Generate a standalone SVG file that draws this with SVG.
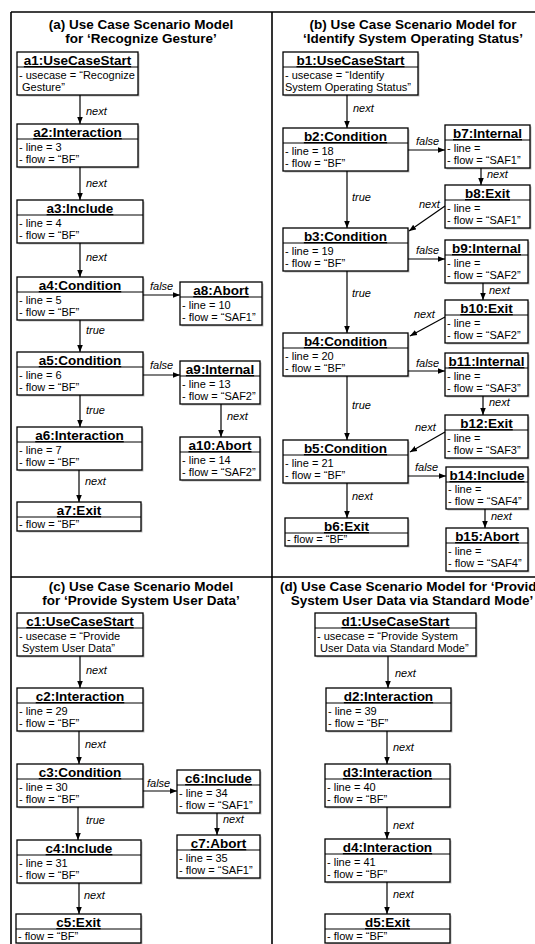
<svg xmlns="http://www.w3.org/2000/svg" width="535" height="944" viewBox="0 0 535 944">
<defs>
<marker id="ah" viewBox="0 0 10 10" refX="10" refY="5" markerWidth="7" markerHeight="7" orient="auto" markerUnits="userSpaceOnUse"><path d="M0,1 L10,5 L0,9 z" fill="#000"/></marker>
<style>
.frame{stroke:#000;stroke-width:1.6;fill:none}
.t{font:bold 13.5px "Liberation Sans",Arial,sans-serif;text-anchor:middle;fill:#000}
.h{font:bold 13.5px "Liberation Sans",Arial,sans-serif;text-anchor:middle;text-decoration:underline;fill:#000}
.b{font:11px "Liberation Sans",Arial,sans-serif;fill:#000}
.l{font:italic 11px "Liberation Sans",Arial,sans-serif;fill:#000}
.node rect.bx{fill:#fff;stroke:#000;stroke-width:1.3}
.node rect.sh{fill:#bdbdbd;stroke:none}
.node line{stroke:#000;stroke-width:1}
.edges line{stroke:#000;stroke-width:1.2;marker-end:url(#ah)}
</style>
</defs>
<rect width="535" height="944" fill="#fff"/>
<g id="frames" class="frame">
<line x1="11" y1="12" x2="535" y2="12"/>
<line x1="11" y1="12" x2="11" y2="944"/>
<line x1="272" y1="12" x2="272" y2="944"/>
<line x1="11" y1="577" x2="535" y2="577"/>
</g>
<g id="titles">
<text class="t" x="141" y="29">(a) Use Case Scenario Model</text>
<text class="t" x="141" y="43">for ‘Recognize Gesture’</text>
<text class="t" x="413" y="29">(b) Use Case Scenario Model for</text>
<text class="t" x="413" y="43">‘Identify System Operating Status’</text>
<text class="t" x="141" y="591">(c) Use Case Scenario Model</text>
<text class="t" x="141" y="605">for ‘Provide System User Data’</text>
<text class="t" x="412" y="591">(d) Use Case Scenario Model for ‘Provide</text>
<text class="t" x="412" y="605">System User Data via Standard Mode’</text>
</g>

<!-- Panel a -->
<g id="a1" class="node"><rect class="sh" x="18.5" y="53.5" width="121" height="43"/><rect class="bx" x="17" y="52" width="121" height="43"/><line x1="17" y1="67" x2="138" y2="67"/><text class="h" x="77.5" y="65">a1:UseCaseStart</text><text class="b" x="19" y="78.5">- usecase = “Recognize</text><text class="b" x="22" y="90.5">Gesture”</text></g>
<g id="a2" class="node"><rect class="sh" x="18.5" y="125.5" width="121" height="43"/><rect class="bx" x="17" y="124" width="121" height="43"/><line x1="17" y1="139" x2="138" y2="139"/><text class="h" x="77.5" y="137">a2:Interaction</text><text class="b" x="19" y="150.5">- line = 3</text><text class="b" x="19" y="162.5">- flow = “BF”</text></g>
<g id="a3" class="node"><rect class="sh" x="18.5" y="201.5" width="126" height="43"/><rect class="bx" x="17" y="200" width="126" height="43"/><line x1="17" y1="215" x2="143" y2="215"/><text class="h" x="80" y="213">a3:Include</text><text class="b" x="19" y="226.5">- line = 4</text><text class="b" x="19" y="238.5">- flow = “BF”</text></g>
<g id="a4" class="node"><rect class="sh" x="18.5" y="278.5" width="126" height="43"/><rect class="bx" x="17" y="277" width="126" height="43"/><line x1="17" y1="292" x2="143" y2="292"/><text class="h" x="80" y="290">a4:Condition</text><text class="b" x="19" y="303.5">- line = 5</text><text class="b" x="19" y="315.5">- flow = “BF”</text></g>
<g id="a5" class="node"><rect class="sh" x="18.5" y="353.5" width="126" height="43"/><rect class="bx" x="17" y="352" width="126" height="43"/><line x1="17" y1="367" x2="143" y2="367"/><text class="h" x="80" y="365">a5:Condition</text><text class="b" x="19" y="378.5">- line = 6</text><text class="b" x="19" y="390.5">- flow = “BF”</text></g>
<g id="a6" class="node"><rect class="sh" x="18.5" y="428.5" width="125" height="43"/><rect class="bx" x="17" y="427" width="125" height="43"/><line x1="17" y1="442" x2="142" y2="442"/><text class="h" x="79.5" y="440">a6:Interaction</text><text class="b" x="19" y="453.5">- line = 7</text><text class="b" x="19" y="465.5">- flow = “BF”</text></g>
<g id="a7" class="node"><rect class="sh" x="18.5" y="503.5" width="124" height="29"/><rect class="bx" x="17" y="502" width="124" height="29"/><line x1="17" y1="517" x2="141" y2="517"/><text class="h" x="79" y="515">a7:Exit</text><text class="b" x="19" y="527.5">- flow = “BF”</text></g>
<g id="a8" class="node"><rect class="sh" x="181.5" y="283.5" width="82" height="43"/><rect class="bx" x="180" y="282" width="82" height="43"/><line x1="180" y1="297" x2="262" y2="297"/><text class="h" x="221" y="295">a8:Abort</text><text class="b" x="182" y="308.5">- line = 10</text><text class="b" x="182" y="320.5">- flow = “SAF1”</text></g>
<g id="a9" class="node"><rect class="sh" x="181.5" y="362.5" width="80" height="43"/><rect class="bx" x="180" y="361" width="80" height="43"/><line x1="180" y1="376" x2="260" y2="376"/><text class="h" x="220" y="374">a9:Internal</text><text class="b" x="182" y="387.5">- line = 13</text><text class="b" x="182" y="399.5">- flow = “SAF2”</text></g>
<g id="a10" class="node"><rect class="sh" x="181.5" y="438.5" width="80" height="43"/><rect class="bx" x="180" y="437" width="80" height="43"/><line x1="180" y1="452" x2="260" y2="452"/><text class="h" x="220" y="450">a10:Abort</text><text class="b" x="182" y="463.5">- line = 14</text><text class="b" x="182" y="475.5">- flow = “SAF2”</text></g>

<!-- Panel b -->
<g id="b1" class="node"><rect class="sh" x="284.5" y="53.5" width="135" height="43"/><rect class="bx" x="283" y="52" width="135" height="43"/><line x1="283" y1="67" x2="418" y2="67"/><text class="h" x="350.5" y="65">b1:UseCaseStart</text><text class="b" x="285" y="78.5">- usecase = “Identify</text><text class="b" x="285" y="90.5">System Operating Status”</text></g>
<g id="b2" class="node"><rect class="sh" x="284.5" y="129.5" width="125" height="43"/><rect class="bx" x="283" y="128" width="125" height="43"/><line x1="283" y1="143" x2="408" y2="143"/><text class="h" x="345.5" y="141">b2:Condition</text><text class="b" x="285" y="154.5">- line = 18</text><text class="b" x="285" y="166.5">- flow = “BF”</text></g>
<g id="b7" class="node"><rect class="sh" x="446.5" y="126.5" width="85" height="43"/><rect class="bx" x="445" y="125" width="85" height="43"/><line x1="445" y1="140" x2="530" y2="140"/><text class="h" x="487.5" y="138">b7:Internal</text><text class="b" x="447" y="151.5">- line =</text><text class="b" x="447" y="163.5">- flow = “SAF1”</text></g>
<g id="b8" class="node"><rect class="sh" x="446.5" y="186.5" width="85" height="43"/><rect class="bx" x="445" y="185" width="85" height="43"/><line x1="445" y1="200" x2="530" y2="200"/><text class="h" x="487.5" y="198">b8:Exit</text><text class="b" x="447" y="211.5">- line =</text><text class="b" x="447" y="223.5">- flow = “SAF1”</text></g>
<g id="b3" class="node"><rect class="sh" x="284.5" y="229.5" width="125" height="43"/><rect class="bx" x="283" y="228" width="125" height="43"/><line x1="283" y1="243" x2="408" y2="243"/><text class="h" x="345.5" y="241">b3:Condition</text><text class="b" x="285" y="254.5">- line = 19</text><text class="b" x="285" y="266.5">- flow = “BF”</text></g>
<g id="b9" class="node"><rect class="sh" x="446.5" y="241.5" width="83" height="43"/><rect class="bx" x="445" y="240" width="83" height="43"/><line x1="445" y1="255" x2="528" y2="255"/><text class="h" x="486.5" y="253">b9:Internal</text><text class="b" x="447" y="266.5">- line =</text><text class="b" x="447" y="278.5">- flow = “SAF2”</text></g>
<g id="b10" class="node"><rect class="sh" x="446.5" y="301.5" width="83" height="43"/><rect class="bx" x="445" y="300" width="83" height="43"/><line x1="445" y1="315" x2="528" y2="315"/><text class="h" x="486.5" y="313">b10:Exit</text><text class="b" x="447" y="326.5">- line =</text><text class="b" x="447" y="338.5">- flow = “SAF2”</text></g>
<g id="b4" class="node"><rect class="sh" x="284.5" y="334.5" width="125" height="43"/><rect class="bx" x="283" y="333" width="125" height="43"/><line x1="283" y1="348" x2="408" y2="348"/><text class="h" x="345.5" y="346">b4:Condition</text><text class="b" x="285" y="359.5">- line = 20</text><text class="b" x="285" y="371.5">- flow = “BF”</text></g>
<g id="b11" class="node"><rect class="sh" x="446.5" y="354.5" width="83" height="43"/><rect class="bx" x="445" y="353" width="83" height="43"/><line x1="445" y1="368" x2="528" y2="368"/><text class="h" x="486.5" y="366">b11:Internal</text><text class="b" x="447" y="379.5">- line =</text><text class="b" x="447" y="391.5">- flow = “SAF3”</text></g>
<g id="b12" class="node"><rect class="sh" x="446.5" y="416.5" width="83" height="43"/><rect class="bx" x="445" y="415" width="83" height="43"/><line x1="445" y1="430" x2="528" y2="430"/><text class="h" x="486.5" y="428">b12:Exit</text><text class="b" x="447" y="441.5">- line =</text><text class="b" x="447" y="453.5">- flow = “SAF3”</text></g>
<g id="b5" class="node"><rect class="sh" x="284.5" y="441.5" width="125" height="43"/><rect class="bx" x="283" y="440" width="125" height="43"/><line x1="283" y1="455" x2="408" y2="455"/><text class="h" x="345.5" y="453">b5:Condition</text><text class="b" x="285" y="466.5">- line = 21</text><text class="b" x="285" y="478.5">- flow = “BF”</text></g>
<g id="b14" class="node"><rect class="sh" x="447.5" y="468.5" width="82" height="42"/><rect class="bx" x="446" y="467" width="82" height="42"/><line x1="446" y1="482" x2="528" y2="482"/><text class="h" x="487" y="480">b14:Include</text><text class="b" x="448" y="493">- line =</text><text class="b" x="448" y="505">- flow = “SAF4”</text></g>
<g id="b15" class="node"><rect class="sh" x="447.5" y="529.5" width="82" height="43"/><rect class="bx" x="446" y="528" width="82" height="43"/><line x1="446" y1="543" x2="528" y2="543"/><text class="h" x="487" y="541">b15:Abort</text><text class="b" x="448" y="554.5">- line =</text><text class="b" x="448" y="566.5">- flow = “SAF4”</text></g>
<g id="b6" class="node"><rect class="sh" x="286.5" y="519.5" width="123" height="28"/><rect class="bx" x="285" y="518" width="123" height="28"/><line x1="285" y1="533" x2="408" y2="533"/><text class="h" x="346.5" y="531">b6:Exit</text><text class="b" x="287" y="543">- flow = “BF”</text></g>

<!-- Panel c -->
<g id="c1" class="node"><rect class="sh" x="18.5" y="614.5" width="126" height="43"/><rect class="bx" x="17" y="613" width="126" height="43"/><line x1="17" y1="628" x2="143" y2="628"/><text class="h" x="80" y="626">c1:UseCaseStart</text><text class="b" x="19" y="639.5">- usecase = “Provide</text><text class="b" x="22" y="651.5">System User Data”</text></g>
<g id="c2" class="node"><rect class="sh" x="18.5" y="689.5" width="126" height="43"/><rect class="bx" x="17" y="688" width="126" height="43"/><line x1="17" y1="703" x2="143" y2="703"/><text class="h" x="80" y="701">c2:Interaction</text><text class="b" x="19" y="714.5">- line = 29</text><text class="b" x="19" y="726.5">- flow = “BF”</text></g>
<g id="c3" class="node"><rect class="sh" x="18.5" y="765.5" width="126" height="43"/><rect class="bx" x="17" y="764" width="126" height="43"/><line x1="17" y1="779" x2="143" y2="779"/><text class="h" x="80" y="777">c3:Condition</text><text class="b" x="19" y="790.5">- line = 30</text><text class="b" x="19" y="802.5">- flow = “BF”</text></g>
<g id="c6" class="node"><rect class="sh" x="178.5" y="771.5" width="83" height="43"/><rect class="bx" x="177" y="770" width="83" height="43"/><line x1="177" y1="785" x2="260" y2="785"/><text class="h" x="218.5" y="783">c6:Include</text><text class="b" x="179" y="796.5">- line = 34</text><text class="b" x="179" y="808.5">- flow = “SAF1”</text></g>
<g id="c7" class="node"><rect class="sh" x="178.5" y="836.5" width="83" height="43"/><rect class="bx" x="177" y="835" width="83" height="43"/><line x1="177" y1="850" x2="260" y2="850"/><text class="h" x="218.5" y="848">c7:Abort</text><text class="b" x="179" y="861.5">- line = 35</text><text class="b" x="179" y="873.5">- flow = “SAF1”</text></g>
<g id="c4" class="node"><rect class="sh" x="18.5" y="841.5" width="124" height="43"/><rect class="bx" x="17" y="840" width="124" height="43"/><line x1="17" y1="855" x2="141" y2="855"/><text class="h" x="79" y="853">c4:Include</text><text class="b" x="19" y="866.5">- line = 31</text><text class="b" x="19" y="878.5">- flow = “BF”</text></g>
<g id="c5" class="node"><rect class="sh" x="17.5" y="915.5" width="125" height="29"/><rect class="bx" x="16" y="914" width="125" height="29"/><line x1="16" y1="929" x2="141" y2="929"/><text class="h" x="78.5" y="927">c5:Exit</text><text class="b" x="18" y="939.5">- flow = “BF”</text></g>

<!-- Panel d -->
<g id="d1" class="node"><rect class="sh" x="316.5" y="614.5" width="161" height="43"/><rect class="bx" x="315" y="613" width="161" height="43"/><line x1="315" y1="628" x2="476" y2="628"/><text class="h" x="395.5" y="626">d1:UseCaseStart</text><text class="b" x="317" y="639.5">- usecase = “Provide System</text><text class="b" x="320" y="651.5">User Data via Standard Mode”</text></g>
<g id="d2" class="node"><rect class="sh" x="327.5" y="689.5" width="125" height="43"/><rect class="bx" x="326" y="688" width="125" height="43"/><line x1="326" y1="703" x2="451" y2="703"/><text class="h" x="388.5" y="701">d2:Interaction</text><text class="b" x="328" y="714.5">- line = 39</text><text class="b" x="328" y="726.5">- flow = “BF”</text></g>
<g id="d3" class="node"><rect class="sh" x="326.5" y="765.5" width="125" height="43"/><rect class="bx" x="325" y="764" width="125" height="43"/><line x1="325" y1="779" x2="450" y2="779"/><text class="h" x="387.5" y="777">d3:Interaction</text><text class="b" x="327" y="790.5">- line = 40</text><text class="b" x="327" y="802.5">- flow = “BF”</text></g>
<g id="d4" class="node"><rect class="sh" x="326.5" y="840.5" width="125" height="43"/><rect class="bx" x="325" y="839" width="125" height="43"/><line x1="325" y1="854" x2="450" y2="854"/><text class="h" x="387.5" y="852">d4:Interaction</text><text class="b" x="327" y="865.5">- line = 41</text><text class="b" x="327" y="877.5">- flow = “BF”</text></g>
<g id="d5" class="node"><rect class="sh" x="326.5" y="915.5" width="125" height="29"/><rect class="bx" x="325" y="914" width="125" height="29"/><line x1="325" y1="929" x2="450" y2="929"/><text class="h" x="387.5" y="927">d5:Exit</text><text class="b" x="327" y="939.5">- flow = “BF”</text></g>

<g id="connectors" class="edges">
<line x1="80" y1="95" x2="80" y2="124"/>
<line x1="80" y1="167" x2="80" y2="200"/>
<line x1="80" y1="243" x2="80" y2="277"/>
<line x1="143" y1="295" x2="180" y2="295"/>
<line x1="80" y1="320" x2="80" y2="352"/>
<line x1="143" y1="375" x2="180" y2="375"/>
<line x1="80" y1="395" x2="80" y2="427"/>
<line x1="221" y1="404" x2="221" y2="437"/>
<line x1="79" y1="470" x2="79" y2="502"/>

<line x1="347" y1="95" x2="347" y2="128"/>
<line x1="408" y1="150" x2="445" y2="150"/>
<line x1="481" y1="168" x2="481" y2="185"/>
<line x1="445" y1="206" x2="409" y2="231"/>
<line x1="347" y1="171" x2="347" y2="228"/>
<line x1="408" y1="259" x2="445" y2="259"/>
<line x1="483" y1="283" x2="483" y2="300"/>
<line x1="445" y1="317" x2="410" y2="336"/>
<line x1="347" y1="271" x2="347" y2="333"/>
<line x1="408" y1="371" x2="445" y2="371"/>
<line x1="483" y1="396" x2="483" y2="415"/>
<line x1="445" y1="432" x2="410" y2="452"/>
<line x1="347" y1="376" x2="347" y2="440"/>
<line x1="408" y1="476" x2="446" y2="476"/>
<line x1="485" y1="509" x2="485" y2="528"/>
<line x1="347" y1="483" x2="347" y2="518"/>

<line x1="80" y1="656" x2="80" y2="688"/>
<line x1="79" y1="731" x2="79" y2="764"/>
<line x1="143" y1="791" x2="177" y2="791"/>
<line x1="217" y1="813" x2="217" y2="835"/>
<line x1="78" y1="807" x2="78" y2="840"/>
<line x1="79" y1="883" x2="79" y2="914"/>

<line x1="388" y1="656" x2="388" y2="688"/>
<line x1="387" y1="731" x2="387" y2="764"/>
<line x1="387" y1="807" x2="387" y2="839"/>
<line x1="387" y1="882" x2="387" y2="914"/>
</g>
<g id="connector-labels">
<text class="l" x="86" y="115">next</text>
<text class="l" x="86" y="187">next</text>
<text class="l" x="86" y="261">next</text>
<text class="l" x="150" y="290">false</text>
<text class="l" x="86" y="334">true</text>
<text class="l" x="150" y="369">false</text>
<text class="l" x="86" y="414">true</text>
<text class="l" x="227" y="420">next</text>
<text class="l" x="85" y="485">next</text>

<text class="l" x="353" y="112">next</text>
<text class="l" x="416" y="145">false</text>
<text class="l" x="487" y="178">next</text>
<text class="l" x="419" y="208">next</text>
<text class="l" x="352" y="201">true</text>
<text class="l" x="416" y="254">false</text>
<text class="l" x="489" y="294">next</text>
<text class="l" x="414" y="318">next</text>
<text class="l" x="352" y="297">true</text>
<text class="l" x="416" y="367">false</text>
<text class="l" x="489" y="406">next</text>
<text class="l" x="415" y="431">next</text>
<text class="l" x="352" y="409">true</text>
<text class="l" x="415" y="471">false</text>
<text class="l" x="491" y="520">next</text>
<text class="l" x="352" y="500">next</text>

<text class="l" x="86" y="674">next</text>
<text class="l" x="85" y="748">next</text>
<text class="l" x="147" y="787">false</text>
<text class="l" x="223" y="823">next</text>
<text class="l" x="86" y="824">true</text>
<text class="l" x="84" y="899">next</text>

<text class="l" x="395" y="677">next</text>
<text class="l" x="393" y="751">next</text>
<text class="l" x="393" y="829">next</text>
<text class="l" x="393" y="898">next</text>
</g>
</svg>
